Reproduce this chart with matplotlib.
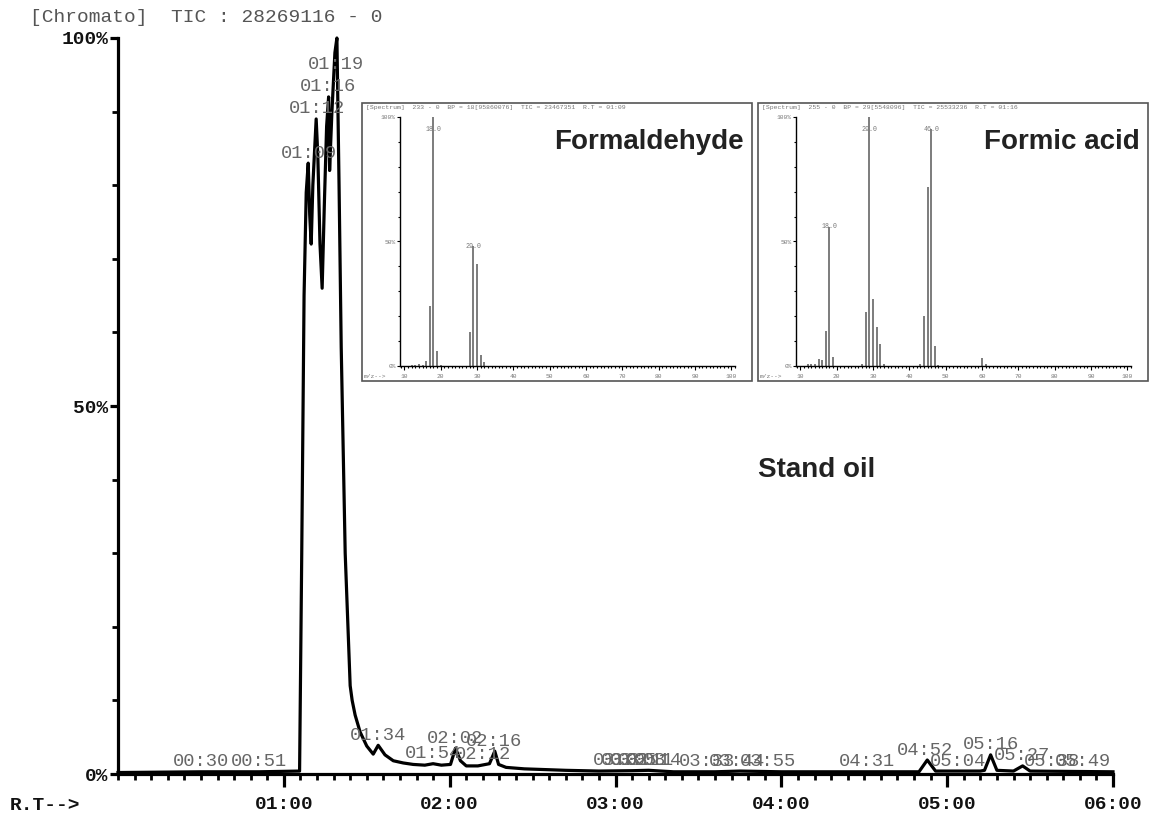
import numpy as np
import matplotlib
matplotlib.use("Agg")
import matplotlib.pyplot as plt
from matplotlib.patches import Rectangle
from matplotlib.ticker import MultipleLocator

# TIC chromatogram (retention time in minutes, relative intensity in %)
rt_min = [0.00, 0.50, 0.85, 1.095, 1.108, 1.122, 1.135, 1.147, 1.156, 1.165,
          1.175, 1.195, 1.205, 1.218, 1.231, 1.245, 1.258, 1.270, 1.276, 1.290,
          1.308, 1.320, 1.333, 1.346, 1.370, 1.400, 1.412, 1.430, 1.460, 1.500,
          1.539, 1.569, 1.610, 1.660, 1.720, 1.780, 1.850, 1.900, 1.950, 2.005,
          2.035, 2.065, 2.100, 2.170, 2.240, 2.272, 2.295, 2.340, 2.450, 2.700,
          2.900, 3.100, 3.200, 3.350, 3.600, 3.750, 4.000, 4.500, 4.830, 4.880,
          4.930, 5.200, 5.225, 5.262, 5.300, 5.400, 5.455, 5.500, 6.000]
tic_pct = [0.2, 0.3, 0.3, 0.4, 30, 65, 79, 83, 76, 72,
           80, 89, 84, 72, 66, 78, 88, 92, 82, 90,
           98, 100, 80, 58, 30, 12, 10, 8, 5.7, 3.8,
           2.7, 3.9, 2.6, 1.8, 1.5, 1.3, 1.2, 1.4, 1.2, 1.3,
           3.5, 1.8, 1.1, 1.1, 1.4, 3.1, 1.3, 0.9, 0.7, 0.5,
           0.4, 0.45, 0.5, 0.3, 0.3, 0.4, 0.3, 0.3, 0.3, 1.9,
           0.4, 0.4, 0.5, 2.6, 0.5, 0.4, 1.1, 0.4, 0.3]

peak_labels = ["00:30", "00:51", "01:09", "01:12", "01:16", "01:19", "01:34",
               "01:54", "02:02", "02:12", "02:16", "03:02", "03:05", "03:08",
               "03:11", "03:14", "03:33", "03:44", "03:55", "04:31", "04:52",
               "05:04", "05:16", "05:27", "05:38", "05:49"]

x_ticks = [1, 2, 3, 4, 5, 6]
x_ticklabels = ["01:00", "02:00", "03:00", "04:00", "05:00", "06:00"]
y_ticks = [0, 50, 100]
y_ticklabels = ["0%", "50%", "100%"]

# mass spectra
mz_formaldehyde = [12, 13, 14, 15, 16, 17, 18, 19, 20, 28, 29, 30, 31, 32]
int_formaldehyde = [0.3, 0.5, 1.0, 0.5, 2.0, 24, 100, 6, 0.3, 13.5, 48, 41, 4.5, 1.5]
lab_formaldehyde = [18, 29]

mz_formic = [12, 13, 14, 15, 16, 17, 18, 19, 27, 28, 29, 30, 31, 32, 33,
             43, 44, 45, 46, 47, 48, 60, 61]
int_formic = [1, 1, 1, 3, 2.5, 14, 56, 3.5, 1, 21.5, 100, 27, 15.5, 9, 1,
              1, 20, 72, 95, 8, 0.5, 3.3, 0.8]
lab_formic = [18, 29, 46]

W, H = 1153, 821
MONO = "Liberation Mono"
SANS = "Liberation Sans"

fig = plt.figure(figsize=(W / 100, H / 100), dpi=100)


def px(x0, y0, x1, y1):
    # pixel box (top-left origin) -> figure fraction rect
    return [x0 / W, 1 - y1 / H, (x1 - x0) / W, (y1 - y0) / H]


# ---- main chromatogram ----
ax = fig.add_axes(px(118, 38, 1113, 774))
ax.plot(rt_min, tic_pct, color="black", lw=2.3, clip_on=False, zorder=3)
ax.set_xlim(0, 6)
ax.set_ylim(0, 100)
for s in ["top", "right"]:
    ax.spines[s].set_visible(False)
for s in ["left", "bottom"]:
    ax.spines[s].set_linewidth(2.3)

ax.set_xticks(x_ticks)
ax.set_xticklabels(x_ticklabels, fontfamily=MONO, fontweight="bold", fontsize=14, color="#111")
ax.set_yticks(y_ticks)
ax.set_yticklabels(y_ticklabels, fontfamily=MONO, fontweight="bold", fontsize=14, color="#111")
ax.xaxis.set_minor_locator(MultipleLocator(0.1))
ax.yaxis.set_minor_locator(MultipleLocator(10))
ax.tick_params(axis="x", which="major", length=9, width=2.3, pad=7)
ax.tick_params(axis="x", which="minor", length=4, width=2)
ax.tick_params(axis="y", which="major", length=6, width=2.3, pad=1)
ax.tick_params(axis="y", which="minor", length=4, width=2)

rt_arr = np.array(rt_min)
tic_arr = np.array(tic_pct)
for lab in peak_labels:
    mm, ss = lab.split(":")
    t = int(mm) + int(ss) / 60
    y = np.interp(t, rt_arr, tic_arr)
    near = np.abs(rt_arr - t) < 0.015
    if near.any():
        y = max(y, tic_arr[near].max())
    y = min(y, 95)
    ax.text(t, y + 0.2, lab, ha="center", va="bottom", fontfamily=MONO,
            fontsize=13.5, color="#666", zorder=4)

fig.text(30 / W, 1 - 17 / H, "[Chromato]  TIC : 28269116 - 0", fontfamily=MONO,
         fontsize=14, color="#555", va="center", ha="left")
fig.text(10 / W, 1 - 805 / H, "R.T-->", fontfamily=MONO, fontweight="bold",
         fontsize=14, color="#111", va="center", ha="left")
fig.text(817 / W, 1 - 470 / H, "Stand oil", fontfamily=SANS, fontweight="bold",
         fontsize=20, color="#222", va="center", ha="center")


# ---- spectrum insets ----
def draw_spectrum(dx, mz, inten, labelled, header, name):
    fig.patches.append(Rectangle(((362 + dx) / W, 1 - 381 / H),
                                 390 / W, 278 / H, transform=fig.transFigure,
                                 fill=False, edgecolor="#555", lw=1.2))
    sx = fig.add_axes(px(400 + dx, 117, 735 + dx, 366))
    sx.vlines(mz, 0, inten, color="#666", lw=1.2)
    sx.set_xlim(8.8, 101)
    sx.set_ylim(0, 100)
    for s in ["top", "right"]:
        sx.spines[s].set_visible(False)
    for s in ["left", "bottom"]:
        sx.spines[s].set_linewidth(1)
    sx.set_xticks(range(10, 101, 10))
    sx.set_xticklabels([str(v) for v in range(10, 101, 10)], fontfamily=MONO,
                       fontsize=4.5, color="#777")
    sx.set_yticks([0, 50, 100])
    sx.set_yticklabels(["0%", "50%", "100%"], fontfamily=MONO, fontsize=4.5, color="#777")
    sx.xaxis.set_minor_locator(MultipleLocator(1))
    sx.yaxis.set_minor_locator(MultipleLocator(10))
    sx.tick_params(axis="x", which="major", length=3, width=0.8, pad=3)
    sx.tick_params(axis="x", which="minor", length=1.5, width=0.8)
    sx.tick_params(axis="y", which="major", length=2, width=0.8, pad=1)
    sx.tick_params(axis="y", which="minor", length=1.5, width=0.8)
    for m in labelled:
        v = inten[mz.index(m)]
        sx.text(m, min(v, 95), f"{m:.1f}", ha="center", va="center",
                fontfamily=MONO, fontsize=4.8, color="#777")
    fig.text((366 + dx) / W, 1 - 107 / H, header, fontfamily=MONO, fontsize=4.6,
             color="#777", va="center", ha="left")
    fig.text((364 + dx) / W, 1 - 376 / H, "m/z-->", fontfamily=MONO, fontsize=4.5,
             color="#777", va="center", ha="left")
    fig.text((744 + dx) / W, 1 - 142 / H, name, fontfamily=SANS, fontweight="bold",
             fontsize=20, color="#222", va="center", ha="right")


draw_spectrum(0, mz_formaldehyde, int_formaldehyde, lab_formaldehyde,
              "[Spectrum]  233 - 0  BP = 18[95860076]  TIC = 23467351  R.T = 01:09",
              "Formaldehyde")
draw_spectrum(396, mz_formic, int_formic, lab_formic,
              "[Spectrum]  255 - 0  BP = 29[5548096]  TIC = 25533236  R.T = 01:16",
              "Formic acid")

fig.savefig("out.png", dpi=100)
